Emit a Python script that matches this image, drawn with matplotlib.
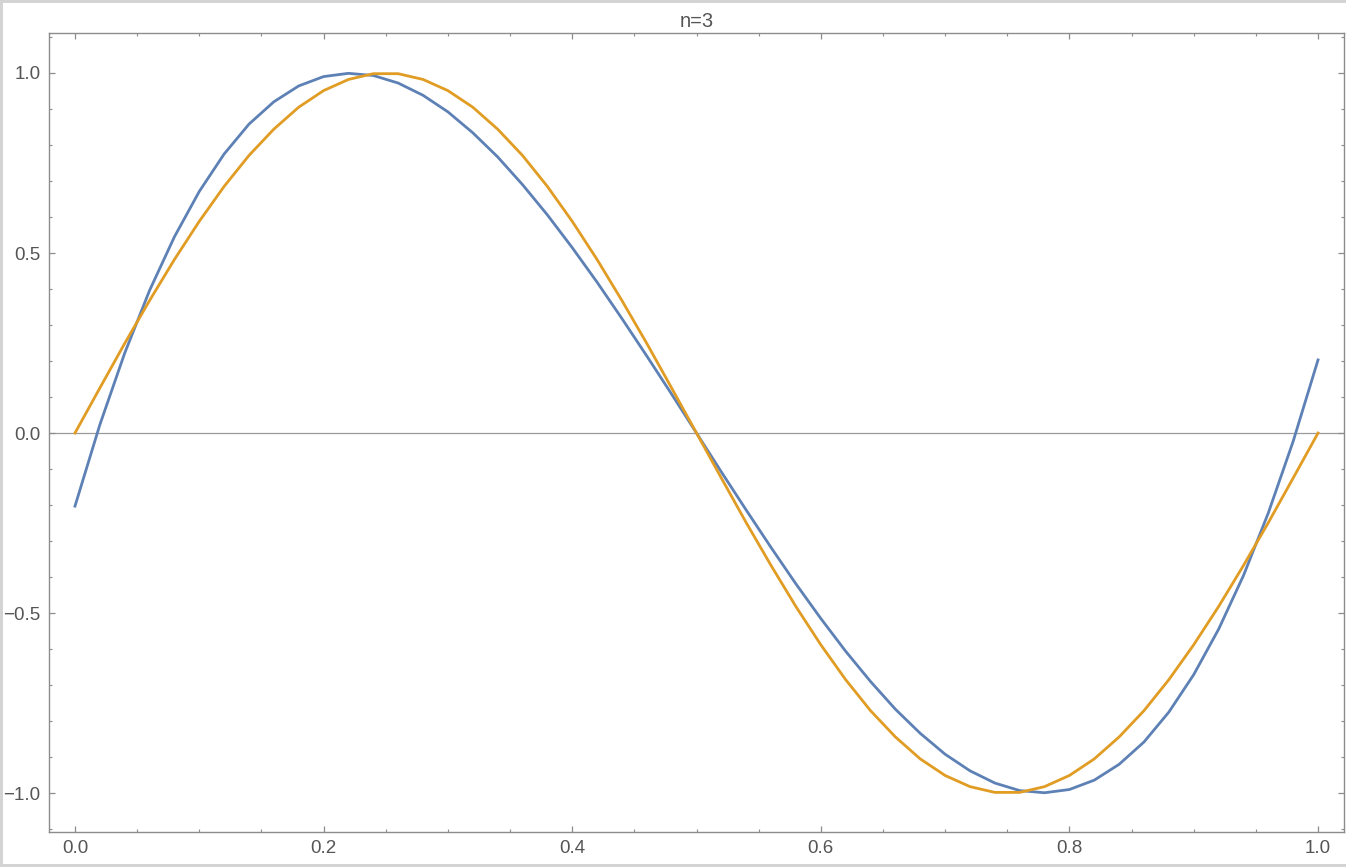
import matplotlib
matplotlib.use("Agg")
import matplotlib.pyplot as plt
from matplotlib.ticker import MultipleLocator, FuncFormatter
from matplotlib.patches import Rectangle

# ---- data ----
x_vals = [0.00, 0.02, 0.04, 0.06, 0.08, 0.10, 0.12, 0.14, 0.16, 0.18,
          0.20, 0.22, 0.24, 0.26, 0.28, 0.30, 0.32, 0.34, 0.36, 0.38,
          0.40, 0.42, 0.44, 0.46, 0.48, 0.50, 0.52, 0.54, 0.56, 0.58,
          0.60, 0.62, 0.64, 0.66, 0.68, 0.70, 0.72, 0.74, 0.76, 0.78,
          0.80, 0.82, 0.84, 0.86, 0.88, 0.90, 0.92, 0.94, 0.96, 0.98, 1.00]

approx_vals = [-0.203, 0.023, 0.222, 0.396, 0.545, 0.671, 0.775, 0.858, 0.920, 0.964,
               0.990, 0.999, 0.993, 0.972, 0.938, 0.892, 0.834, 0.767, 0.690, 0.606,
               0.515, 0.419, 0.318, 0.214, 0.108, 0.000, -0.108, -0.214, -0.318, -0.419,
               -0.515, -0.606, -0.690, -0.767, -0.834, -0.892, -0.938, -0.972, -0.993, -0.999,
               -0.990, -0.964, -0.920, -0.858, -0.775, -0.671, -0.545, -0.396, -0.222, -0.023, 0.203]

exact_vals = [0.000, 0.125, 0.249, 0.368, 0.482, 0.588, 0.685, 0.771, 0.844, 0.905,
              0.951, 0.982, 0.998, 0.998, 0.982, 0.951, 0.905, 0.844, 0.771, 0.685,
              0.588, 0.482, 0.368, 0.249, 0.125, 0.000, -0.125, -0.249, -0.368, -0.482,
              -0.588, -0.685, -0.771, -0.844, -0.905, -0.951, -0.982, -0.998, -0.998, -0.982,
              -0.951, -0.905, -0.844, -0.771, -0.685, -0.588, -0.482, -0.368, -0.249, -0.125, 0.000]

title_text = "n=3"

plt.rcParams['font.family'] = ['Liberation Sans', 'DejaVu Sans']

W, H = 1346, 867
fig = plt.figure(figsize=(W / 100, H / 100), dpi=100)
fig.patch.set_facecolor("white")

# screenshot border strips
fig.patches.append(Rectangle((0, 1 - 3 / H), 1, 3 / H, transform=fig.transFigure,
                             facecolor="#d4d4d4", edgecolor="none"))
fig.patches.append(Rectangle((0, 0), 2.5 / W, 1, transform=fig.transFigure,
                             facecolor="#d4d4d4", edgecolor="none"))
fig.patches.append(Rectangle((0, 0), 1, 3 / H, transform=fig.transFigure,
                             facecolor="#d4d4d4", edgecolor="none"))

left, right, top, bottom = 49, 1344, 33, 832
ax = fig.add_axes([left / W, (H - bottom) / H, (right - left) / W, (bottom - top) / H])

ax.axhline(0, color="#9a9a9a", lw=0.9, zorder=1)
ax.plot(x_vals, approx_vals, color="#5E81B5", lw=2.0, zorder=3, solid_joinstyle="round")
ax.plot(x_vals, exact_vals, color="#E19C24", lw=2.0, zorder=4, solid_joinstyle="round")

ax.set_xlim(-0.0209, 1.0209)
ax.set_ylim(-1.108, 1.111)

ax.xaxis.set_major_locator(MultipleLocator(0.2))
ax.xaxis.set_minor_locator(MultipleLocator(0.05))
ax.yaxis.set_major_locator(MultipleLocator(0.5))
ax.yaxis.set_minor_locator(MultipleLocator(0.1))

def fmt(v, pos):
    s = "%.1f" % v
    if s == "-0.0":
        s = "0.0"
    return s.replace("-", "\u2212")

ax.xaxis.set_major_formatter(FuncFormatter(fmt))
ax.yaxis.set_major_formatter(FuncFormatter(fmt))

frame_col = "#8c8c8c"
for s in ax.spines.values():
    s.set_color(frame_col)
    s.set_linewidth(1.0)

ax.tick_params(which="both", direction="in", top=True, right=True,
               color=frame_col, labelcolor="#555555", labelsize=13.5)
ax.tick_params(which="major", length=4.5, width=0.9, pad=6)
ax.tick_params(which="minor", length=2.5, width=0.8)

ax.set_title(title_text, fontsize=14.5, color="#555555", pad=4)

fig.savefig("out.png", dpi=100, facecolor="white")
